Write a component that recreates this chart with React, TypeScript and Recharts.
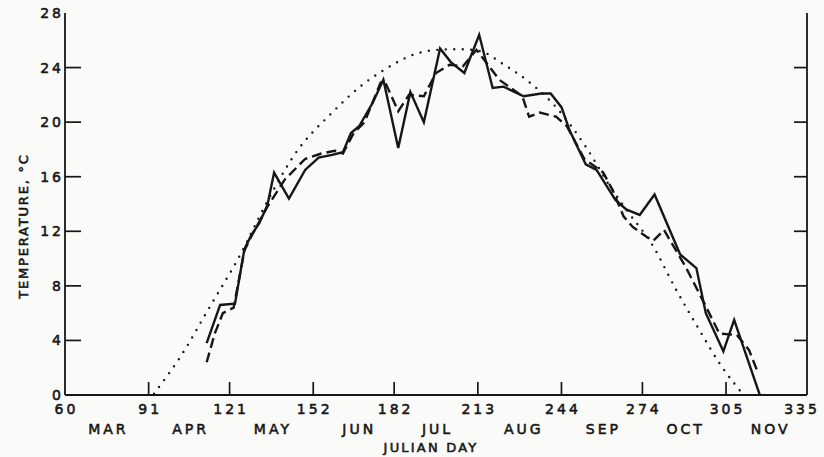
import React from 'react';
import { LineChart, Line, XAxis, YAxis, Label } from 'recharts';

// ---- axis ticks / labels ----
const dayTicks = [60, 91, 121, 152, 182, 213, 244, 274, 305, 335];
const innerDayTicks = [91, 121, 152, 182, 213, 244, 274, 305];
const monthNames = ['MAR', 'APR', 'MAY', 'JUN', 'JUL', 'AUG', 'SEP', 'OCT', 'NOV'];
const monthPositions = [75.5, 106, 136.5, 168.5, 197.5, 229.5, 259, 289.5, 321];
const tempTicks = [0, 4, 8, 12, 16, 20, 24, 28];
const innerTempTicks = [4, 8, 12, 16, 20, 24];

// ---- series: [julian day, temperature °C] ----
const solidSeries: [number, number][] = [
  [112.5, 3.8], [117.5, 6.6], [123, 6.7], [126.5, 10.7], [129, 11.7], [132, 12.6],
  [135, 13.9], [137.5, 16.3], [143, 14.4], [149, 16.5], [154, 17.4], [159, 17.6],
  [163, 17.8], [166, 19.2], [169, 19.7], [174, 21.4], [178, 23.1], [183.5, 18.1],
  [188, 22.2], [193, 20.0], [199, 25.4], [203, 24.4], [208, 23.6], [213.5, 26.4],
  [218.5, 22.5], [222.5, 22.6], [230, 21.9], [236.5, 22.1], [240, 22.1], [244, 21.1],
  [247, 19.4], [253, 16.9], [257, 16.5], [264, 14.3], [268, 13.6], [273, 13.2],
  [278.5, 14.7], [288, 10.3], [294, 9.3], [297.5, 6.0], [304, 3.2], [308, 5.5],
  [317.5, 0],
];

const dashedSeries: [number, number][] = [
  [112.5, 2.4], [115.5, 4.5], [118.5, 6.0], [122.5, 6.4], [126.5, 10.6], [129, 11.6],
  [135, 13.8], [141.5, 15.8], [149, 17.3], [155, 17.7], [160, 17.9], [163, 17.7],
  [167, 19.2], [171, 20.0], [177, 22.9], [178.5, 23.0], [183.5, 20.8], [187.5, 22.0],
  [193, 21.9], [197.5, 23.6], [202.5, 24.2], [207.5, 24.1], [212.5, 25.3], [221, 23.1],
  [229.5, 21.9], [232, 20.4], [236, 20.7], [242, 20.4], [246, 19.7], [252.5, 17.3],
  [259.5, 16.3], [263, 15.0], [267, 13.1], [270.5, 12.3], [275.5, 11.6], [278, 11.3],
  [282, 12.1], [290, 9.4], [297.5, 6.5], [302.5, 4.5], [309, 4.4], [313.5, 3.3],
  [316.5, 1.8],
];

const dottedSeries: [number, number][] = [
  [93, 0.1], [105, 3.5], [112, 5.9], [125, 10.3], [135, 14.2], [145, 17.6],
  [159, 20.7], [170, 22.7], [178, 23.8], [190, 25.0], [198, 25.3], [206, 25.35],
  [214, 25.2], [222, 24.3], [231, 23.1], [242, 21.1], [253, 18.2], [262, 15.3],
  [268, 13.6], [278, 10.9], [286, 7.9], [295, 4.8], [303, 2.2], [311.5, 0],
];

const toRows = (s: [number, number][]) => s.map(([day, temp]) => ({ day, temp }));
const solidData = toRows(solidSeries);
const dashedData = toRows(dashedSeries);
const dottedData = toRows(dottedSeries);

const INK = '#161616';
const FONT = '"DejaVu Sans", Verdana, sans-serif';
const textStyle = {
  fill: INK,
  fontFamily: FONT,
  stroke: INK,
  strokeWidth: 0.55,
};

const BottomTick = (props: any) => {
  const { x, y, payload } = props;
  const v = payload.value;
  const last = v === dayTicks[dayTicks.length - 1];
  return (
    <g>
      {innerDayTicks.includes(v) && (
        <line x1={x} x2={x} y1={y} y2={y - 13} stroke={INK} strokeWidth={1.7} />
      )}
      <text x={last ? x - 5 : x + 1.5} y={y + 19} textAnchor="middle" fontSize={14} letterSpacing={3} {...textStyle}>
        {v}
      </text>
    </g>
  );
};

const MonthTick = (props: any) => {
  const { x, y, payload } = props;
  const i = monthPositions.indexOf(payload.value);
  return (
    <text x={x + 1.5} y={y + 19} textAnchor="middle" fontSize={14} letterSpacing={3} {...textStyle}>
      {monthNames[i]}
    </text>
  );
};

const TopTick = (props: any) => {
  const { x, y, payload } = props;
  if (!innerDayTicks.includes(payload.value)) return <g />;
  return <line x1={x} x2={x} y1={y} y2={y + 12} stroke={INK} strokeWidth={1.7} />;
};

const LeftTick = (props: any) => {
  const { x, y, payload } = props;
  const v = payload.value;
  return (
    <g>
      {innerTempTicks.includes(v) && (
        <line x1={x} x2={x + 16} y1={y} y2={y} stroke={INK} strokeWidth={1.7} />
      )}
      <text x={x - 1} y={y + 5} textAnchor="end" fontSize={14} letterSpacing={3} {...textStyle}>
        {v}
      </text>
    </g>
  );
};

const RightTick = (props: any) => {
  const { x, y, payload } = props;
  if (!innerTempTicks.includes(payload.value)) return <g />;
  return <line x1={x} x2={x - 13} y1={y} y2={y} stroke={INK} strokeWidth={1.7} />;
};

const YTitle = (props: any) => {
  const { viewBox } = props;
  const cx = viewBox.x + 28;
  const cy = viewBox.y + viewBox.height / 2 + 22;
  return (
    <text
      x={cx}
      y={cy}
      transform={`rotate(-90, ${cx}, ${cy})`}
      textAnchor="middle"
      fontSize={13}
      letterSpacing={1.8}
      {...textStyle}
    >
      TEMPERATURE, °C
    </text>
  );
};

const XTitle = (props: any) => {
  const { viewBox } = props;
  return (
    <text
      x={viewBox.x + viewBox.width / 2 - 5}
      y={viewBox.y + 37}
      textAnchor="middle"
      fontSize={13}
      letterSpacing={2.2}
      {...textStyle}
    >
      JULIAN DAY
    </text>
  );
};

export default function App() {
  return (
    <div style={{ position: 'absolute', left: 0, top: 0, width: 824, height: 457, background: '#fafaf8' }}>
      <LineChart width={824} height={457} margin={{ top: 13, right: 0, bottom: 0, left: 0 }}>
        <XAxis
          xAxisId="d"
          dataKey="day"
          type="number"
          domain={[60, 335]}
          ticks={dayTicks}
          interval={0}
          orientation="bottom"
          height={20}
          tickSize={0}
          tickMargin={0}
          tickLine={false}
          axisLine={{ stroke: INK, strokeWidth: 1.8 }}
          tick={<BottomTick />}
          allowDataOverflow
        />
        <XAxis
          xAxisId="m"
          dataKey="day"
          type="number"
          domain={[60, 335]}
          ticks={monthPositions}
          interval={0}
          orientation="bottom"
          height={42}
          tickSize={0}
          tickMargin={0}
          tickLine={false}
          axisLine={false}
          tick={<MonthTick />}
          allowDataOverflow
        >
          <Label content={<XTitle />} />
        </XAxis>
        <XAxis
          xAxisId="t"
          dataKey="day"
          type="number"
          domain={[60, 335]}
          ticks={dayTicks}
          interval={0}
          orientation="top"
          height={0}
          tickSize={0}
          tickMargin={0}
          tickLine={false}
          axisLine={{ stroke: INK, strokeWidth: 1.8 }}
          tick={<TopTick />}
          allowDataOverflow
        />
        <YAxis
          yAxisId="l"
          type="number"
          domain={[0, 28]}
          ticks={tempTicks}
          interval={0}
          width={65}
          tickSize={0}
          tickMargin={0}
          tickLine={false}
          axisLine={{ stroke: INK, strokeWidth: 1.8 }}
          tick={<LeftTick />}
          allowDataOverflow
        >
          <Label content={<YTitle />} />
        </YAxis>
        <YAxis
          yAxisId="r"
          orientation="right"
          type="number"
          domain={[0, 28]}
          ticks={tempTicks}
          interval={0}
          width={17}
          tickSize={0}
          tickMargin={0}
          tickLine={false}
          axisLine={{ stroke: INK, strokeWidth: 1.8 }}
          tick={<RightTick />}
          allowDataOverflow
        />
        <Line
          xAxisId="t"
          yAxisId="l"
          data={dottedData}
          dataKey="temp"
          type="monotone"
          stroke={INK}
          strokeWidth={2.4}
          strokeDasharray="0 8.5"
          strokeLinecap="round"
          dot={false}
          activeDot={false}
          isAnimationActive={false}
        />
        <Line
          xAxisId="m"
          yAxisId="r"
          data={dashedData}
          dataKey="temp"
          type="linear"
          stroke={INK}
          strokeWidth={2.4}
          strokeDasharray="10 5"
          dot={false}
          activeDot={false}
          isAnimationActive={false}
        />
        <Line
          xAxisId="d"
          yAxisId="l"
          data={solidData}
          dataKey="temp"
          type="linear"
          stroke={INK}
          strokeWidth={2.4}
          strokeLinejoin="miter"
          dot={false}
          activeDot={false}
          isAnimationActive={false}
        />
      </LineChart>
    </div>
  );
}
